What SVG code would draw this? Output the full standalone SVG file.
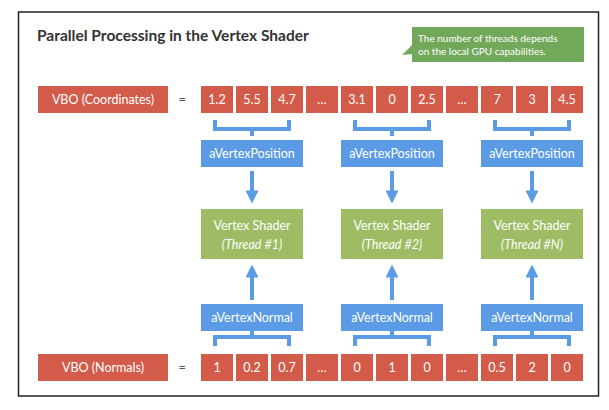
<svg xmlns="http://www.w3.org/2000/svg" width="609" height="410" viewBox="0 0 609 410">
<defs>
<style>
.r{fill:#d35b4a}
.b{fill:#5b9be6}
.g{fill:#9dbc64}
.t{font-family:Lato,"Open Sans",sans-serif;font-size:12.5px;fill:#fff;text-anchor:middle}
.br{fill:none;stroke:#5b9be6;stroke-width:4}
.ar{stroke:#5b9be6;stroke-width:4}
</style>
<marker id="ah" viewBox="0 0 10 10" refX="5" refY="5" markerWidth="3.6" markerHeight="3.2" orient="auto"><path d="M0,0L10,5L0,10z" fill="#5b9be6"/></marker>
</defs>
<rect x="0" y="0" width="609" height="410" fill="#fff"/>
<rect x="18.5" y="12" width="580" height="384" fill="#fff" stroke="#222" stroke-width="1.5"/>
<text x="37" y="41" font-family="Lato,'Open Sans',sans-serif" font-size="15.5" font-weight="bold" fill="#333">Parallel Processing in the Vertex Shader</text>
<g id="callout">
<path d="M412,27H584V62H412V54L402,55L412,45Z" fill="#72a85a"/>
<text x="418" y="42" font-family="Lato,'Open Sans',sans-serif" font-size="10" fill="#fff">The number of threads depends</text>
<text x="418" y="55" font-family="Lato,'Open Sans',sans-serif" font-size="10" fill="#fff">on the local GPU capabilities.</text>
</g>
<g id="vbo-coords">
<rect class="r" x="38" y="86" width="130" height="27"/><text class="t" x="103" y="104">VBO (Coordinates)</text>
<text x="182" y="104" font-family="Lato,sans-serif" font-size="12.5" fill="#555" text-anchor="middle">=</text>
<rect class="r" x="201" y="86" width="32" height="27"/><text class="t" x="217" y="104">1.2</text>
<rect class="r" x="236" y="86" width="32" height="27"/><text class="t" x="252" y="104">5.5</text>
<rect class="r" x="271" y="86" width="32" height="27"/><text class="t" x="287" y="104">4.7</text>
<rect class="r" x="306" y="86" width="32" height="27"/><text class="t" x="322" y="104">…</text>
<rect class="r" x="341" y="86" width="32" height="27"/><text class="t" x="357" y="104">3.1</text>
<rect class="r" x="376" y="86" width="32" height="27"/><text class="t" x="392" y="104">0</text>
<rect class="r" x="411" y="86" width="32" height="27"/><text class="t" x="427" y="104">2.5</text>
<rect class="r" x="446" y="86" width="32" height="27"/><text class="t" x="462" y="104">…</text>
<rect class="r" x="481" y="86" width="32" height="27"/><text class="t" x="497" y="104">7</text>
<rect class="r" x="516" y="86" width="32" height="27"/><text class="t" x="532" y="104">3</text>
<rect class="r" x="551" y="86" width="32" height="27"/><text class="t" x="567" y="104">4.5</text>
</g>
<g id="vbo-normals">
<rect class="r" x="38" y="354" width="130" height="27"/><text class="t" x="103" y="372">VBO (Normals)</text>
<text x="182" y="372" font-family="Lato,sans-serif" font-size="12.5" fill="#555" text-anchor="middle">=</text>
<rect class="r" x="201" y="354" width="32" height="27"/><text class="t" x="217" y="372">1</text>
<rect class="r" x="236" y="354" width="32" height="27"/><text class="t" x="252" y="372">0.2</text>
<rect class="r" x="271" y="354" width="32" height="27"/><text class="t" x="287" y="372">0.7</text>
<rect class="r" x="306" y="354" width="32" height="27"/><text class="t" x="322" y="372">…</text>
<rect class="r" x="341" y="354" width="32" height="27"/><text class="t" x="357" y="372">0</text>
<rect class="r" x="376" y="354" width="32" height="27"/><text class="t" x="392" y="372">1</text>
<rect class="r" x="411" y="354" width="32" height="27"/><text class="t" x="427" y="372">0</text>
<rect class="r" x="446" y="354" width="32" height="27"/><text class="t" x="462" y="372">…</text>
<rect class="r" x="481" y="354" width="32" height="27"/><text class="t" x="497" y="372">0.5</text>
<rect class="r" x="516" y="354" width="32" height="27"/><text class="t" x="532" y="372">2</text>
<rect class="r" x="551" y="354" width="32" height="27"/><text class="t" x="567" y="372">0</text>
</g>
<g id="pos1"><rect class="b" x="201" y="140" width="102" height="27"/><text class="t" x="252" y="158">aVertexPosition</text></g>
<g id="pos2"><rect class="b" x="341" y="140" width="102" height="27"/><text class="t" x="392" y="158">aVertexPosition</text></g>
<g id="pos3"><rect class="b" x="481" y="140" width="102" height="27"/><text class="t" x="532" y="158">aVertexPosition</text></g>
<g id="vs1"><rect class="g" x="201" y="209" width="102" height="50"/><text class="t" x="252" y="230">Vertex Shader</text><text class="t" x="252" y="249" font-style="italic">(Thread #1)</text></g>
<g id="vs2"><rect class="g" x="341" y="209" width="102" height="50"/><text class="t" x="392" y="230">Vertex Shader</text><text class="t" x="392" y="249" font-style="italic">(Thread #2)</text></g>
<g id="vs3"><rect class="g" x="481" y="209" width="102" height="50"/><text class="t" x="532" y="230">Vertex Shader</text><text class="t" x="532" y="249" font-style="italic">(Thread #N)</text></g>
<g id="norm1"><rect class="b" x="201" y="304" width="102" height="27"/><text class="t" x="252" y="322">aVertexNormal</text></g>
<g id="norm2"><rect class="b" x="341" y="304" width="102" height="27"/><text class="t" x="392" y="322">aVertexNormal</text></g>
<g id="norm3"><rect class="b" x="481" y="304" width="102" height="27"/><text class="t" x="532" y="322">aVertexNormal</text></g>
<g id="connectors">
<path class="br" d="M215,120V129H289V120M252,129V136"/>
<path class="br" d="M355,120V129H429V120M392,129V136"/>
<path class="br" d="M495,120V129H569V120M532,129V136"/>
<path class="br" d="M215,346V337H289V346M252,337V331"/>
<path class="br" d="M355,346V337H429V346M392,337V331"/>
<path class="br" d="M495,346V337H569V346M532,337V331"/>
<line class="ar" x1="252" y1="171" x2="252" y2="197" marker-end="url(#ah)"/>
<line class="ar" x1="392" y1="171" x2="392" y2="197" marker-end="url(#ah)"/>
<line class="ar" x1="532" y1="171" x2="532" y2="197" marker-end="url(#ah)"/>
<line class="ar" x1="252" y1="300" x2="252" y2="271" marker-end="url(#ah)"/>
<line class="ar" x1="392" y1="300" x2="392" y2="271" marker-end="url(#ah)"/>
<line class="ar" x1="532" y1="300" x2="532" y2="271" marker-end="url(#ah)"/>
</g>
</svg>
